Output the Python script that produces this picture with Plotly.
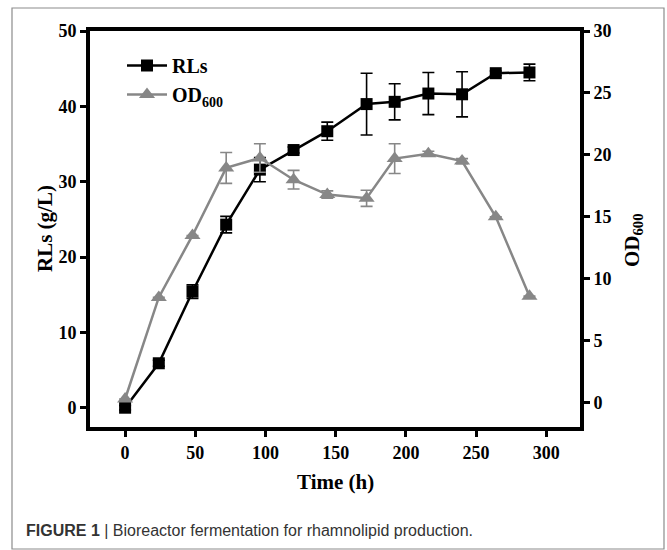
import plotly.graph_objects as go

time_h = [0, 24, 48, 72, 96, 120, 144, 172, 192, 216, 240, 264, 288]
rls = [0.0, 5.9, 15.4, 24.3, 31.6, 34.2, 36.7, 40.3, 40.6, 41.7, 41.6, 44.4, 44.5]
rls_err = [0.3, 0.4, 0.9, 1.1, 1.6, 0.4, 1.2, 4.1, 2.4, 2.8, 3.0, 0.3, 1.1]
od600 = [0.3, 8.5, 13.5, 18.95, 19.75, 18.0, 16.8, 16.5, 19.7, 20.1, 19.5, 15.0, 8.6]
od_err = [0.0, 0.0, 0.0, 1.25, 1.15, 0.75, 0.3, 0.65, 1.2, 0.2, 0.2, 0.0, 0.0]

x_ticks = [0, 50, 100, 150, 200, 250, 300]
y_ticks = [0, 10, 20, 30, 40, 50]
y2_ticks = [0, 5, 10, 15, 20, 25, 30]

BLACK = "#000000"
GRAY = "#878787"
SERIF = "Liberation Serif, Times New Roman, serif"

fig = go.Figure()
fig.add_trace(go.Scatter(
    x=time_h, y=rls, name="RLs", mode="lines+markers",
    line=dict(color=BLACK, width=2.5),
    marker=dict(symbol="square", size=12, color=BLACK),
    error_y=dict(type="data", array=rls_err, color=BLACK, thickness=1.6, width=6),
))
fig.add_trace(go.Scatter(
    x=time_h, y=od600, name="OD<sub>600</sub>", mode="lines+markers", yaxis="y2",
    line=dict(color=GRAY, width=2.5),
    marker=dict(symbol="triangle-up", size=14, color=GRAY),
    error_y=dict(type="data", array=od_err, color=GRAY, thickness=1.6, width=6),
))

# paper coordinate helpers (plot area 90..580 px horizontally, 31..427 px vertically)
L, R, T, B = 90, 580, 31, 427
def px(x):
    return (x - L) / (R - L)
def py(y):
    return (B - y) / (B - T)

def bold(vals):
    return [f"<b>{v}</b>" for v in vals]

tickfont = dict(family=SERIF, size=18, color=BLACK, weight="bold")
axis_common = dict(showline=True, linecolor=BLACK, linewidth=4,
                   ticks="outside", ticklen=6, tickwidth=3, tickcolor=BLACK,
                   showgrid=False, zeroline=False, tickfont=tickfont)
fig.update_layout(
    width=667, height=550,
    margin=dict(l=L, r=667 - R, t=T, b=550 - B),
    paper_bgcolor="white", plot_bgcolor="white",
    showlegend=True,
    legend=dict(x=px(122), y=py(46), xanchor="left", yanchor="top",
                bgcolor="rgba(0,0,0,0)",
                font=dict(family=SERIF, size=20, color=BLACK, weight="bold"),
                tracegroupgap=0, itemwidth=40),
    xaxis=dict(range=[-25, 324], tickvals=x_ticks, ticktext=bold(x_ticks),
               mirror=True, **axis_common),
    yaxis=dict(range=[-2.56, 50], tickvals=y_ticks, ticktext=bold(y_ticks), **axis_common),
    yaxis2=dict(range=[-1.96, 30], tickvals=y2_ticks, ticktext=bold(y2_ticks),
                overlaying="y", side="right", **axis_common),
    shapes=[dict(type="rect", xref="paper", yref="paper",
                 x0=px(12), x1=px(664), y0=py(549), y1=py(8),
                 line=dict(color="#8c8c8c", width=1.2), layer="below")],
    annotations=[
        dict(text="<b>RLs (g/L)</b>", xref="paper", yref="paper", x=px(45), y=py(229),
             textangle=-90, showarrow=False, xanchor="center", yanchor="middle",
             font=dict(family=SERIF, size=21, color=BLACK)),
        dict(text="<b>OD<sub>600</sub></b>", xref="paper", yref="paper", x=px(633), y=py(240),
             textangle=-90, showarrow=False, xanchor="center", yanchor="middle",
             font=dict(family=SERIF, size=21, color=BLACK)),
        dict(text="<b>Time (h)</b>", xref="paper", yref="paper", x=px(335), y=py(482),
             showarrow=False, xanchor="center", yanchor="middle",
             font=dict(family=SERIF, size=21, color=BLACK)),
        dict(text="<b>FIGURE 1</b> | Bioreactor fermentation for rhamnolipid production.",
             xref="paper", yref="paper", x=px(24), y=py(530),
             showarrow=False, xanchor="left", yanchor="middle",
             font=dict(family="Liberation Sans, Arial, sans-serif", size=16, color="#333333")),
    ],
)

fig.write_html("out.html")
